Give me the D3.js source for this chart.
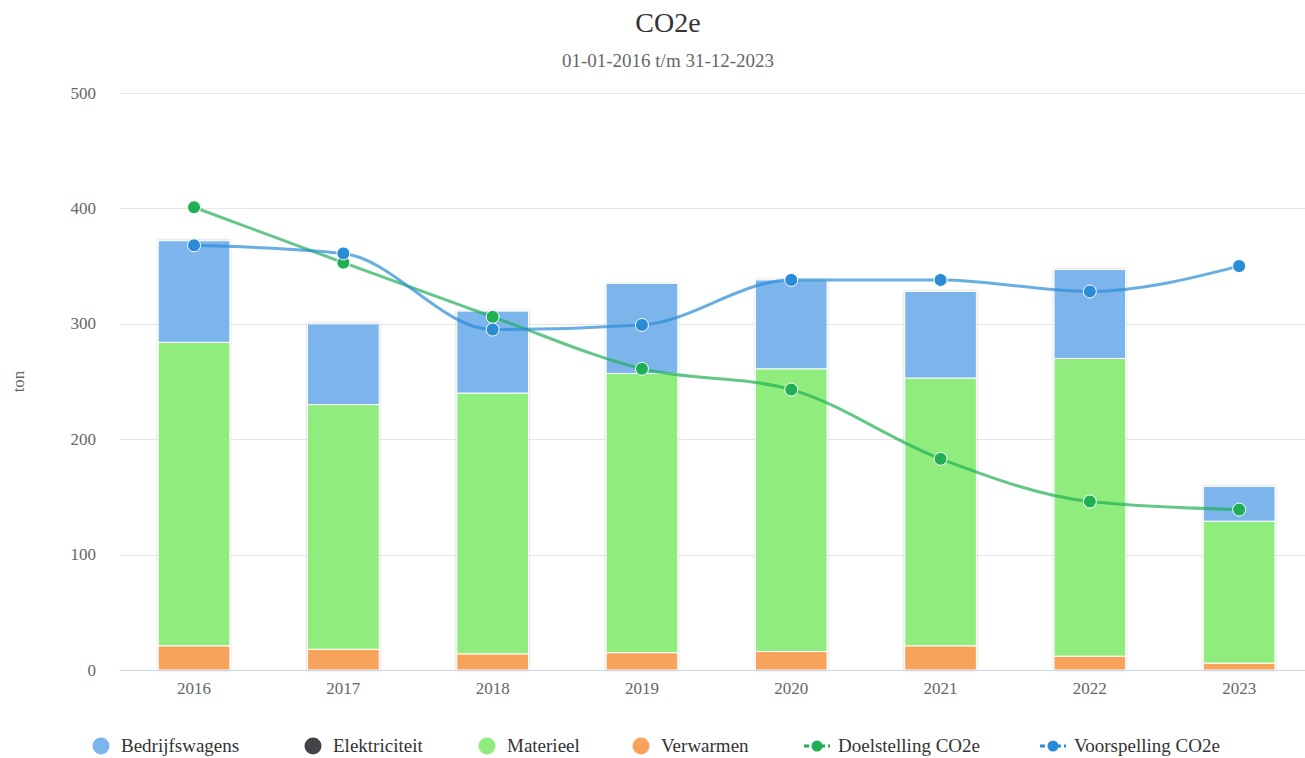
<!DOCTYPE html>
<html>
<head>
<meta charset="utf-8">
<script src="https://cdn.jsdelivr.net/npm/d3@7"></script>
<style>
  body { margin: 0; background: #fff; }
  svg, svg text { font-family: "Liberation Serif", "DejaVu Serif", serif; }
</style>
</head>
<body>
<div id="chart"></div>
<script>
// data
var years = ["2016", "2017", "2018", "2019", "2020", "2021", "2022", "2023"];
var bedrijfswagens = [88, 70, 71, 78, 77, 75, 77, 30];
var elektriciteit = [0, 0, 0, 0, 0, 0, 0, 0];
var materieel = [263, 212, 226, 242, 245, 232, 258, 123];
var verwarmen = [21, 18, 14, 15, 16, 21, 12, 6];
var doelstelling = [401, 353, 306, 261, 243, 183, 146, 139];
var voorspelling = [368, 361, 295, 299, 338, 338, 328, 350];
var yTicks = [0, 100, 200, 300, 400, 500];

var width = 1305, height = 758;
var margin = { top: 93, left: 119.4, bottom: 88 };

var svg = d3.select("#chart").append("svg")
  .attr("width", width)
  .attr("height", height);

// soft shadow round the columns
var defs = svg.append("defs");
var f = defs.append("filter").attr("id", "shadow")
  .attr("x", "-10%").attr("y", "-10%").attr("width", "120%").attr("height", "120%");
f.append("feDropShadow").attr("dx", 0).attr("dy", 0).attr("stdDeviation", 1.3)
  .attr("flood-color", "#000").attr("flood-opacity", 0.25);

var xScale = d3.scaleBand()
  .domain(years)
  .range([margin.left, margin.left + 149.3 * 8])
  .paddingInner(0.52)
  .paddingOuter(0.26);

var yScale = d3.scaleLinear()
  .domain([0, 500])
  .range([670, 93]);

// title
svg.append("text")
  .attr("x", 668).attr("y", 32)
  .attr("text-anchor", "middle")
  .style("font-size", "28px").attr("fill", "#333")
  .text("CO2e");
svg.append("text")
  .attr("x", 668).attr("y", 67)
  .attr("text-anchor", "middle")
  .style("font-size", "19px").attr("fill", "#666")
  .text("01-01-2016 t/m 31-12-2023");

// grid
svg.append("g").selectAll("line")
  .data(yTicks.filter(function (d) { return d > 0; }))
  .enter().append("line")
  .attr("x1", 120).attr("x2", width)
  .attr("y1", function (d) { return Math.round(yScale(d)) + 0.5; })
  .attr("y2", function (d) { return Math.round(yScale(d)) + 0.5; })
  .attr("stroke", "#e6e6e6");

// y axis labels
var yAxis = svg.append("g")
  .attr("transform", "translate(96,0)")
  .call(d3.axisLeft(yScale).tickValues(yTicks).tickSize(0).tickPadding(0));
yAxis.select(".domain").remove();
yAxis.selectAll("text")
  .style("font-family", "Liberation Serif, serif")
  .style("font-size", "17px").attr("fill", "#666").attr("dy", "0.3em");

svg.append("text")
  .attr("transform", "translate(24," + yScale(250) + ") rotate(-90)")
  .attr("text-anchor", "middle")
  .style("font-size", "17px").attr("fill", "#666")
  .text("ton");

// stacks
var stackData = years.map(function (y, i) {
  return { year: y, Verwarmen: verwarmen[i], Materieel: materieel[i],
           Elektriciteit: elektriciteit[i], Bedrijfswagens: bedrijfswagens[i] };
});
var keys = ["Verwarmen", "Materieel", "Elektriciteit", "Bedrijfswagens"];
var colors = { Bedrijfswagens: "#7cb5ec", Elektriciteit: "#434348",
               Materieel: "#90ed7d", Verwarmen: "#f7a35c" };
var series = d3.stack().keys(keys)(stackData);

var bars = svg.append("g").attr("filter", "url(#shadow)");
series.forEach(function (s) {
  bars.selectAll("rect." + s.key)
    .data(s.filter(function (d) { return d[1] > d[0]; }))
    .enter().append("rect")
    .attr("class", s.key)
    .attr("x", function (d) { return xScale(d.data.year); })
    .attr("width", xScale.bandwidth())
    .attr("y", function (d) { return yScale(d[1]); })
    .attr("height", function (d) { return yScale(d[0]) - yScale(d[1]); })
    .attr("fill", colors[s.key])
    .attr("stroke", "#fff")
    .attr("stroke-width", 1);
});

// x axis
svg.append("line")
  .attr("x1", 120).attr("x2", width)
  .attr("y1", 670.5).attr("y2", 670.5)
  .attr("stroke", "#ccd6eb");

var xAxis = svg.append("g")
  .attr("transform", "translate(0,670)")
  .call(d3.axisBottom(xScale).tickSize(0).tickPadding(12));
xAxis.select(".domain").remove();
xAxis.selectAll("text")
  .style("font-family", "Liberation Serif, serif")
  .style("font-size", "17px").attr("fill", "#666");

// lines
function cx(d, i) { return xScale(years[i]) + xScale.bandwidth() / 2; }
var line = d3.line()
  .x(cx)
  .y(function (d) { return yScale(d); })
  .curve(d3.curveMonotoneX);

var lineSeries = [
  { name: "Doelstelling CO2e", values: doelstelling, color: "#1faf55" },
  { name: "Voorspelling CO2e", values: voorspelling, color: "#2a8bd6" }
];

lineSeries.forEach(function (s) {
  var g = svg.append("g");
  g.append("path")
    .attr("d", line(s.values))
    .attr("fill", "none")
    .attr("stroke", s.color)
    .attr("stroke-opacity", 0.7)
    .attr("stroke-width", 3);
  g.selectAll("circle")
    .data(s.values)
    .enter().append("circle")
    .attr("cx", cx)
    .attr("cy", function (d) { return yScale(d); })
    .attr("r", 6.5)
    .attr("fill", s.color)
    .attr("stroke", "#fff")
    .attr("stroke-width", 1);
});

// legend
var legendItems = [
  { name: "Bedrijfswagens", color: colors.Bedrijfswagens, x: 101, type: "dot" },
  { name: "Elektriciteit", color: colors.Elektriciteit, x: 313, type: "dot" },
  { name: "Materieel", color: colors.Materieel, x: 487, type: "dot" },
  { name: "Verwarmen", color: colors.Verwarmen, x: 641, type: "dot" },
  { name: "Doelstelling CO2e", color: lineSeries[0].color, x: 817, type: "line" },
  { name: "Voorspelling CO2e", color: lineSeries[1].color, x: 1053, type: "line" }
];
var legend = svg.append("g").attr("transform", "translate(0,746)");
legendItems.forEach(function (d) {
  var item = legend.append("g").attr("transform", "translate(" + d.x + ",0)");
  if (d.type === "dot") {
    item.append("circle").attr("r", 8.5).attr("fill", d.color);
  } else {
    item.append("line").attr("x1", -13).attr("x2", 13)
      .attr("stroke", d.color).attr("stroke-width", 3)
      .attr("stroke-dasharray", "5,3");
    item.append("circle").attr("r", 5.5).attr("fill", d.color);
  }
  item.append("text")
    .attr("x", d.type === "dot" ? 20 : 21)
    .attr("y", 6)
    .style("font-size", "19px").attr("fill", "#333")
    .text(d.name);
});
</script>
</body>
</html>
